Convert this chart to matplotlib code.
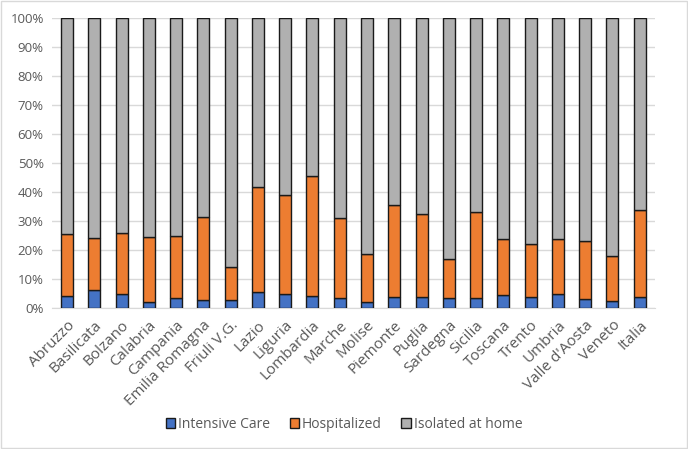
import matplotlib
matplotlib.use("Agg")
import matplotlib.pyplot as plt
from matplotlib.patches import Rectangle
from matplotlib.ticker import PercentFormatter
import numpy as np

regions = ["Abruzzo", "Basilicata", "Bolzano", "Calabria", "Campania",
           "Emilia Romagna", "Friuli V.G.", "Lazio", "Liguria", "Lombardia",
           "Marche", "Molise", "Piemonte", "Puglia", "Sardegna", "Sicilia",
           "Toscana", "Trento", "Umbria", "Valle d'Aosta", "Veneto", "Italia"]

# percentages
intensive = [4.1, 6.2, 5.0, 2.0, 3.3, 2.7, 2.8, 5.6, 4.7, 4.3, 3.5,
             2.0, 3.7, 3.9, 3.5, 3.3, 4.5, 3.8, 5.0, 3.0, 2.5, 3.7]
hospitalized = [21.4, 17.8, 21.0, 22.5, 21.4, 28.8, 11.5, 36.1, 34.3, 41.2, 27.5,
                16.7, 31.8, 28.6, 13.4, 29.8, 19.3, 18.4, 18.7, 20.1, 15.5, 30.1]
isolated = [74.5, 76.0, 74.0, 75.5, 75.3, 68.5, 85.7, 58.3, 61.0, 54.5, 69.0,
            81.3, 64.5, 67.5, 83.1, 66.9, 76.2, 77.8, 76.3, 76.9, 82.0, 66.2]

series = [("Intensive Care", intensive, "#4472C4"),
          ("Hospitalized", hospitalized, "#ED7D31"),
          ("Isolated at home", isolated, "#B0B0B0")]

plt.rcParams['font.family'] = ['Open Sans', 'DejaVu Sans']

fig = plt.figure(figsize=(6.88, 4.49), dpi=100)
ax = fig.add_axes([0.0756, 0.314, 0.876, 0.646])

x = np.arange(len(regions))
bottom = np.zeros(len(regions))
for name, vals, col in series:
    ax.bar(x, vals, 0.44, bottom=bottom, color=col, edgecolor="#1a1a1a",
           linewidth=1.0, label=name, zorder=3)
    bottom += np.array(vals)

ax.set_ylim(0, 100)
ax.set_xlim(-0.55, len(regions) - 0.45)
ax.set_yticks(range(0, 101, 10))
ax.yaxis.set_major_formatter(PercentFormatter(decimals=0))
ax.set_xticks(x)
ax.set_xticklabels(regions, rotation=45, ha="right", rotation_mode="anchor")
ax.tick_params(axis="both", length=0, labelsize=10, colors="#595959")
ax.tick_params(axis="y", labelsize=9.5, pad=6)
ax.tick_params(axis="x", labelsize=11, pad=7)
ax.grid(axis="y", color="#D9D9D9", linewidth=1, zorder=0)
for s in ["top", "right", "left"]:
    ax.spines[s].set_visible(False)
ax.spines["bottom"].set_color("#D9D9D9")

ax.legend(loc="center", ncol=3, frameon=False, fontsize=10,
          handlelength=0.7, handleheight=0.7, handletextpad=0.2,
          columnspacing=1.4, labelcolor="#595959")
leg = ax.get_legend()
leg.set_bbox_to_anchor((0.5, 1 - 424 / 449), transform=fig.transFigure)

fig.patches.append(Rectangle((0.002, 0.002), 0.996, 0.996, transform=fig.transFigure,
                             fill=False, edgecolor="#D9D9D9", linewidth=1))

fig.savefig("out.png", dpi=100)
